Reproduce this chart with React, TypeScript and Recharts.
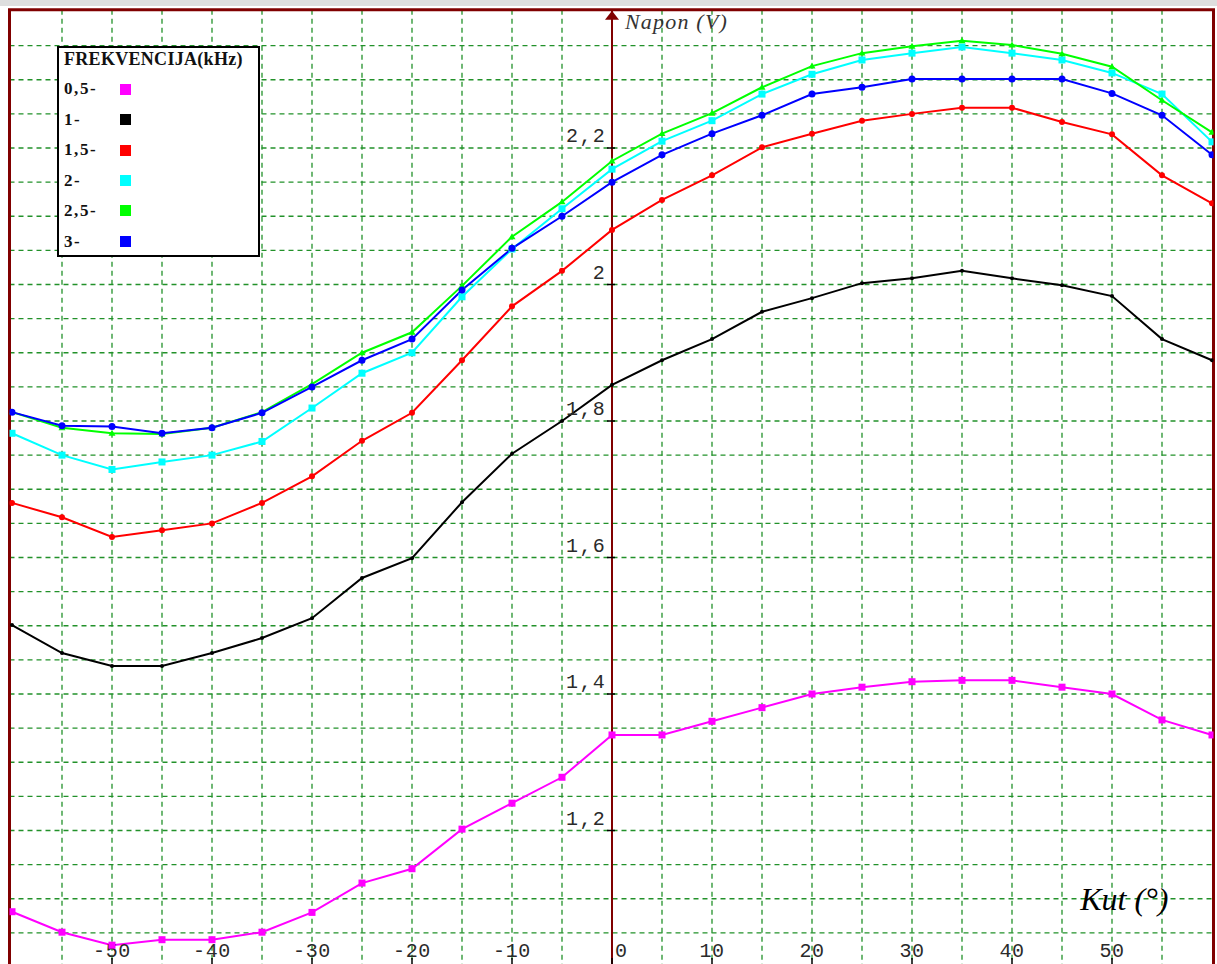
import React from "react";
import {
  LineChart,
  Line,
  XAxis,
  YAxis,
  CartesianGrid,
  ReferenceLine,
  ReferenceArea,
  ReferenceDot,
  Legend,
} from "recharts";

// kut (stupnjevi)
const angles = [-60, -55, -50, -45, -40, -35, -30, -25, -20, -15, -10, -5, 0, 5, 10, 15, 20, 25, 30, 35, 40, 45, 50, 55, 60];

// napon (V) po frekvenciji
const f05 = [1.081, 1.051, 1.032, 1.04, 1.04, 1.051, 1.08, 1.123, 1.144, 1.202, 1.24, 1.278, 1.34, 1.34, 1.36, 1.38, 1.4, 1.41, 1.418, 1.42, 1.42, 1.41, 1.4, 1.362, 1.34];
const f1 = [1.501, 1.46, 1.441, 1.441, 1.46, 1.482, 1.511, 1.57, 1.599, 1.681, 1.752, 1.8, 1.853, 1.889, 1.92, 1.96, 1.98, 2.002, 2.009, 2.02, 2.009, 1.999, 1.983, 1.92, 1.889];
const f15 = [1.68, 1.659, 1.63, 1.64, 1.65, 1.68, 1.719, 1.771, 1.812, 1.889, 1.968, 2.02, 2.08, 2.124, 2.16, 2.201, 2.221, 2.24, 2.25, 2.259, 2.259, 2.238, 2.22, 2.16, 2.119];
const f2 = [1.782, 1.75, 1.729, 1.74, 1.75, 1.77, 1.819, 1.87, 1.9, 1.982, 2.052, 2.111, 2.169, 2.21, 2.24, 2.279, 2.308, 2.329, 2.339, 2.348, 2.339, 2.329, 2.31, 2.279, 2.209];
const f25 = [1.813, 1.79, 1.782, 1.781, 1.79, 1.813, 1.854, 1.9, 1.93, 1.998, 2.07, 2.121, 2.181, 2.221, 2.251, 2.289, 2.32, 2.339, 2.349, 2.357, 2.351, 2.338, 2.319, 2.27, 2.223];
const f3 = [1.813, 1.793, 1.792, 1.782, 1.79, 1.812, 1.85, 1.889, 1.92, 1.992, 2.053, 2.1, 2.15, 2.19, 2.221, 2.248, 2.279, 2.289, 2.301, 2.301, 2.301, 2.301, 2.28, 2.248, 2.19];

const xLabels = [-50, -40, -30, -20, -10, 0, 10, 20, 30, 40, 50];
const yLabels = [1.2, 1.4, 1.6, 1.8, 2.0, 2.2];
const yLabelText = ["1,2", "1,4", "1,6", "1,8", "2", "2,2"];
const gridX = [-55, -50, -45, -40, -35, -30, -25, -20, -15, -10, -5, 5, 10, 15, 20, 25, 30, 35, 40, 45, 50, 55];
const gridY = [1.05, 1.1, 1.15, 1.2, 1.25, 1.3, 1.35, 1.4, 1.45, 1.5, 1.55, 1.6, 1.65, 1.7, 1.75, 1.8, 1.85, 1.9, 1.95, 2.0, 2.05, 2.1, 2.15, 2.2, 2.25, 2.3, 2.35];

const series = [
  { key: "f05", name: "0,5", color: "#ff00ff", shape: "square", size: 7, values: f05 },
  { key: "f1", name: "1", color: "#000000", shape: "circle", size: 2, values: f1 },
  { key: "f15", name: "1,5", color: "#ff0000", shape: "circle", size: 3, values: f15 },
  { key: "f2", name: "2", color: "#00ffff", shape: "square", size: 7, values: f2 },
  { key: "f25", name: "2,5", color: "#00ff00", shape: "triangle", size: 3.5, values: f25 },
  { key: "f3", name: "3", color: "#0000ff", shape: "circle", size: 3.5, values: f3 },
];

const data = angles.map((a, i) => {
  const row: Record<string, number> = { angle: a };
  series.forEach((s) => (row[s.key] = s.values[i]));
  return row;
});

const makeDot = (shape: string, color: string, size: number) => (p: any) => {
  const { cx, cy, index } = p;
  if (cx == null || cy == null) return <g key={index} />;
  if (shape === "square")
    return <rect key={index} x={cx - size / 2} y={cy - size / 2} width={size} height={size} fill={color} />;
  if (shape === "triangle")
    return (
      <polygon
        key={index}
        points={`${cx},${cy - size} ${cx + size},${cy + size * 0.7} ${cx - size},${cy + size * 0.7}`}
        fill={color}
      />
    );
  return <circle key={index} cx={cx} cy={cy} r={size} fill={color} />;
};

const FreqLegend = () => (
  <div
    style={{
      width: 199,
      height: 207,
      border: "2px solid #000",
      background: "#fff",
      position: "relative",
      fontFamily: "'Liberation Serif', 'Times New Roman', serif",
      fontWeight: "bold",
      color: "#111",
    }}
  >
    <div style={{ position: "absolute", left: 5, top: 2, fontSize: 18, lineHeight: "18px", letterSpacing: 0.3, whiteSpace: "nowrap" }}>
      FREKVENCIJA(kHz)
    </div>
    {series.map((s, i) => (
      <React.Fragment key={s.key}>
        <div style={{ position: "absolute", left: 5, top: 32 + i * 30.6, fontSize: 17, lineHeight: "17px", letterSpacing: 1.6 }}>
          {s.name}-
        </div>
        <div
          style={{
            position: "absolute",
            left: 60.5,
            top: 36 + i * 30.3,
            width: 11,
            height: 11,
            background: s.color,
          }}
        />
      </React.Fragment>
    ))}
  </div>
);

const monoFont = "'Liberation Mono', 'DejaVu Sans Mono', monospace";
const serifFont = "'Liberation Serif', 'Times New Roman', serif";

const App: React.FC = () => {
  return (
    <div style={{ position: "fixed", left: 0, top: 0, width: 1217, height: 964, overflow: "hidden", background: "#fff" }}>
      <div style={{ position: "absolute", left: 0, top: 0, width: 1217, height: 6, background: "#dedede" }} />
      <div style={{ position: "absolute", left: 0, top: 0 }}>
        <LineChart width={1217} height={980} data={data} margin={{ top: 9.8, left: 9.5, right: 3.5, bottom: 13 }}>
          <XAxis dataKey="angle" type="number" domain={[-60.25, 60.15]} allowDataOverflow hide />
          <YAxis type="number" domain={[1.0, 2.4025]} allowDataOverflow hide />
          <CartesianGrid
            stroke="#22912a"
            strokeDasharray="5 4"
            strokeWidth={1.3}
            horizontalValues={gridY}
            verticalValues={gridX}
          />
          <ReferenceLine x={0} stroke="#800000" strokeWidth={2} />
          {yLabels.map((v, i) => (
            <ReferenceDot
              key={"y" + v}
              x={0}
              y={v}
              r={0}
              ifOverflow="visible"
              shape={(p: any) => (
                <g>
                  <line x1={p.cx - 5} x2={p.cx + 3} y1={p.cy} y2={p.cy} stroke="#000" strokeWidth={1.5} />
                  <text
                    x={p.cx - 6}
                    y={p.cy - 6}
                    textAnchor="end"
                    fontFamily={monoFont}
                    fontSize={20}
                    letterSpacing={1.3}
                    fill="#2a2a2a"
                  >
                    {yLabelText[i]}
                  </text>
                </g>
              )}
            />
          ))}
          {xLabels.map((v) => (
            <ReferenceDot
              key={"x" + v}
              x={v}
              y={1.0}
              r={0}
              ifOverflow="visible"
              shape={(p: any) => (
                <g>
                  <line x1={p.cx} x2={p.cx} y1={p.cy - 9} y2={p.cy} stroke="#000" strokeWidth={1.5} />
                  <text
                    x={v === 0 ? p.cx + 3 : p.cx}
                    y={p.cy - 10}
                    textAnchor={v === 0 ? "start" : "middle"}
                    fontFamily={monoFont}
                    fontSize={20}
                    letterSpacing={0.6}
                    fill="#2a2a2a"
                  >
                    {String(v)}
                  </text>
                </g>
              )}
            />
          ))}
          {series.map((s) => (
            <Line
              key={s.key}
              type="linear"
              dataKey={s.key}
              name={s.name}
              stroke={s.color}
              strokeWidth={2}
              dot={makeDot(s.shape, s.color, s.size)}
              activeDot={false}
              isAnimationActive={false}
            />
          ))}
          <ReferenceArea
            x1={-60.25}
            x2={60.15}
            y1={1.0}
            y2={2.4025}
            fill="none"
            stroke="#800000"
            strokeWidth={3}
            ifOverflow="visible"
          />
          <ReferenceDot
            x={0}
            y={2.4025}
            r={0}
            ifOverflow="visible"
            shape={(p: any) => (
              <g>
                <polygon points={`${p.cx},${p.cy + 1} ${p.cx + 7},${p.cy + 10} ${p.cx - 7},${p.cy + 10}`} fill="#800000" />
                <text x={p.cx + 13} y={p.cy + 19} fontFamily={serifFont} fontStyle="italic" fontSize={22} letterSpacing={1.2} fill="#333">
                  Napon (V)
                </text>
              </g>
            )}
          />
          <ReferenceDot
            x={60.15}
            y={1.0}
            r={0}
            ifOverflow="visible"
            shape={(p: any) => (
              <text x={p.cx - 45} y={p.cy - 57} textAnchor="end" fontFamily={serifFont} fontStyle="italic" fontSize={32} fill="#000">
                Kut (°)
              </text>
            )}
          />
          <Legend
            layout="vertical"
            align="center"
            verticalAlign="middle"
            content={<FreqLegend />}
            wrapperStyle={{ left: 57, top: 46, width: 203, height: 211 }}
          />
        </LineChart>
      </div>
    </div>
  );
};

export default App;
